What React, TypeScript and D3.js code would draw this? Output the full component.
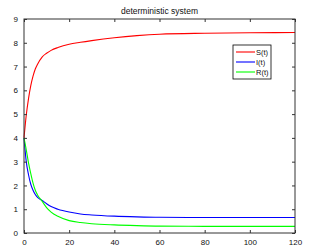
import { useEffect, useRef } from 'react'
import { axisBottom, axisLeft, axisRight, axisTop, curveMonotoneX, line, scaleLinear, select } from 'd3'

const times = [0, 1, 2, 3, 4, 5, 6, 8, 10, 12, 15, 20, 25, 30, 40, 50, 60, 80, 100, 120]
const sValues = [4, 4.95, 5.65, 6.2, 6.6, 6.9, 7.1, 7.4, 7.56, 7.68, 7.8, 7.94, 8.02, 8.09, 8.21, 8.3, 8.36, 8.4, 8.42, 8.43]
const iValues = [4, 3.0, 2.45, 2.05, 1.8, 1.62, 1.5, 1.37, 1.23, 1.11, 1.0, 0.88, 0.8, 0.76, 0.71, 0.68, 0.66, 0.65, 0.65, 0.65]
const rValues = [4, 3.5, 2.95, 2.5, 2.1, 1.8, 1.6, 1.34, 1.07, 0.88, 0.7, 0.52, 0.44, 0.39, 0.34, 0.31, 0.29, 0.28, 0.28, 0.28]
const xTicks = [0, 20, 40, 60, 80, 100, 120]
const yTicks = [0, 1, 2, 3, 4, 5, 6, 7, 8, 9]
const seriesNames = ['S(t)', 'I(t)', 'R(t)']
const seriesColors = ['#ff0000', '#0000ff', '#00ff00']

const width = 310
const height = 252
const margin = { top: 19, right: 15, bottom: 19, left: 24 }

export default function App() {
  const bottomRef = useRef<SVGGElement>(null)
  const topRef = useRef<SVGGElement>(null)
  const leftRef = useRef<SVGGElement>(null)
  const rightRef = useRef<SVGGElement>(null)

  const innerWidth = width - margin.left - margin.right
  const innerHeight = height - margin.top - margin.bottom

  const xScale = scaleLinear().domain([0, 120]).range([0, innerWidth])
  const yScale = scaleLinear().domain([0, 9]).range([innerHeight, 0])

  const series = [sValues, iValues, rValues]
  const pathFor = line<number>()
    .x((_, i) => xScale(times[i]))
    .y((v) => yScale(v))
    .curve(curveMonotoneX)

  useEffect(() => {
    const style = (g: any) => {
      g.selectAll('.domain').remove()
      g.selectAll('line').attr('stroke', '#333')
      g.selectAll('text')
        .attr('font-family', 'Liberation Sans, Arial, sans-serif')
        .attr('font-size', 8)
        .attr('fill', '#111')
    }
    if (bottomRef.current)
      select(bottomRef.current)
        .call(axisBottom(xScale).tickValues(xTicks).tickSize(-3).tickPadding(6))
        .call(style)
    if (leftRef.current)
      select(leftRef.current)
        .call(axisLeft(yScale).tickValues(yTicks).tickSize(-3).tickPadding(6))
        .call(style)
    if (topRef.current)
      select(topRef.current)
        .call(axisTop(xScale).tickValues(xTicks).tickSize(-3).tickFormat(() => ''))
        .call(style)
    if (rightRef.current)
      select(rightRef.current)
        .call(axisRight(yScale).tickValues(yTicks).tickSize(-3).tickFormat(() => ''))
        .call(style)
  }, [])

  return (
    <div style={{ position: 'absolute', left: 0, top: 0 }}>
      <svg width={width} height={height} style={{ display: 'block', background: '#fff' }}>
        <text
          x={margin.left + innerWidth / 2}
          y={14}
          textAnchor="middle"
          fontFamily="Liberation Sans, Arial, sans-serif"
          fontSize={8.5}
          fill="#111"
        >
          deterministic system
        </text>
        <g transform={`translate(${margin.left}, ${margin.top})`}>
          {series.map((values, i) => (
            <path
              key={seriesNames[i]}
              d={pathFor(values) ?? ''}
              fill="none"
              stroke={seriesColors[i]}
              strokeWidth={1.1}
            />
          ))}
          <rect x={0} y={0} width={innerWidth} height={innerHeight} fill="none" stroke="#333" strokeWidth={1} />
          <g ref={bottomRef} transform={`translate(0, ${innerHeight})`} />
          <g ref={leftRef} />
          <g ref={topRef} />
          <g ref={rightRef} transform={`translate(${innerWidth}, 0)`} />
          <g transform={`translate(${209}, ${26})`}>
            <rect x={0} y={0} width={38} height={34} fill="#fff" stroke="#000" strokeWidth={0.8} />
            {seriesNames.map((name, i) => (
              <g key={name} transform={`translate(0, ${7 + i * 10})`}>
                <line x1={3} x2={22} y1={0} y2={0} stroke={seriesColors[i]} strokeWidth={1.1} />
                <text
                  x={23}
                  y={3}
                  fontFamily="Liberation Sans, Arial, sans-serif"
                  fontSize={7.5}
                  fill="#111"
                >
                  {name}
                </text>
              </g>
            ))}
          </g>
        </g>
      </svg>
    </div>
  )
}
